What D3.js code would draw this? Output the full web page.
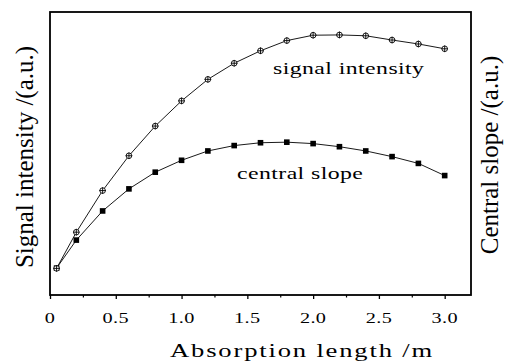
<!DOCTYPE html>
<html><head><meta charset="utf-8">
<script src="https://cdn.jsdelivr.net/npm/d3@7"></script>
<style>body{margin:0;background:#fff}svg{display:block}text{font-family:"Liberation Serif","Times New Roman",serif;fill:#000}</style>
</head><body><svg id="c" width="508" height="363"></svg>
<script>
const lengths = [0.05,0.2,0.4,0.6,0.8,1.0,1.2,1.4,1.6,1.8,2.0,2.2,2.4,2.6,2.8,3.0];
const signalIntensity = [0.94,2.22,3.69,4.92,5.97,6.86,7.62,8.19,8.63,8.99,9.18,9.19,9.16,9.01,8.87,8.70];
const centralSlope = [0.95,1.94,2.97,3.75,4.34,4.76,5.09,5.28,5.38,5.40,5.35,5.24,5.09,4.89,4.65,4.22];
const xTicks = [0,0.5,1.0,1.5,2.0,2.5,3.0];
const xTickLabels = ["0","0.5","1.0","1.5","2.0","2.5","3.0"];
const xMinor = [0.25,0.75,1.25,1.75,2.25,2.75];

const svg = d3.select("#c");
const L=50, T=12, R=471, B=295;
const x = d3.scaleLinear().domain([0,3.2]).range([L,R]);
const y = d3.scaleLinear().domain([0,10]).range([B,T]);

// bottom axis ticks
const ax = svg.append("g").attr("transform",`translate(0,${B})`);
ax.call(d3.axisBottom(x).tickValues(xTicks).tickSize(4).tickFormat(""))
  .call(g=>g.select(".domain").remove());
ax.selectAll(".tick line").attr("stroke","#000").attr("stroke-width",1.3);
const ax2 = svg.append("g").attr("transform",`translate(0,${B})`);
ax2.call(d3.axisBottom(x).tickValues(xMinor).tickSize(2.5).tickFormat(""))
  .call(g=>g.select(".domain").remove());
ax2.selectAll(".tick line").attr("stroke","#000").attr("stroke-width",1.2);

// tick labels (horizontally widened like the reference)
xTicks.forEach((v,i)=>{
  svg.append("text").attr("transform",`translate(${x(v)},323) scale(1.35,1)`)
    .attr("text-anchor","middle").attr("font-size",15).attr("letter-spacing",0.3).text(xTickLabels[i]);
});

// frame
svg.append("rect").attr("x",L).attr("y",T).attr("width",R-L).attr("height",B-T)
  .attr("fill","none").attr("stroke","#000").attr("stroke-width",1.8);

const line = d3.line().x((d,i)=>x(lengths[i])).y(d=>y(d));
svg.append("path").datum(signalIntensity).attr("d",line).attr("fill","none").attr("stroke","#000").attr("stroke-width",0.9);
svg.append("path").datum(centralSlope).attr("d",line).attr("fill","none").attr("stroke","#000").attr("stroke-width",0.9);

// square markers
svg.selectAll(".sq").data(centralSlope).join("rect").attr("class","sq")
  .attr("x",(d,i)=>x(lengths[i])-2.8).attr("y",d=>y(d)-2.8).attr("width",5.6).attr("height",5.6).attr("fill","#000");
// circle-cross markers
const cm = svg.selectAll(".cm").data(signalIntensity).join("g").attr("class","cm")
  .attr("transform",(d,i)=>`translate(${x(lengths[i])},${y(d)})`);
cm.append("circle").attr("r",2.8).attr("fill","#fff").attr("stroke","#000").attr("stroke-width",0.9);
cm.append("path").attr("d","M-3.3,0H3.3M0,-3.3V3.3").attr("stroke","#000").attr("stroke-width",0.9);

// annotations
svg.append("text").attr("transform","translate(273,74) scale(1.4,1)").attr("font-size",17).attr("letter-spacing",0.3).text("signal intensity");
svg.append("text").attr("transform","translate(237,179) scale(1.4,1)").attr("font-size",17).attr("letter-spacing",0.3).text("central slope");

// axis titles
svg.append("text").attr("transform","translate(302,357) scale(1.4,1)").attr("text-anchor","middle").attr("font-size",19).attr("letter-spacing",1.3).text("Absorption length /m");
svg.append("text").attr("transform","translate(33,157) rotate(-90)").attr("text-anchor","middle").attr("font-size",25).text("Signal intensity /(a.u.)");
svg.append("text").attr("transform","translate(498,155) rotate(-90)").attr("text-anchor","middle").attr("font-size",25).text("Central slope /(a.u.)");
</script></body></html>
